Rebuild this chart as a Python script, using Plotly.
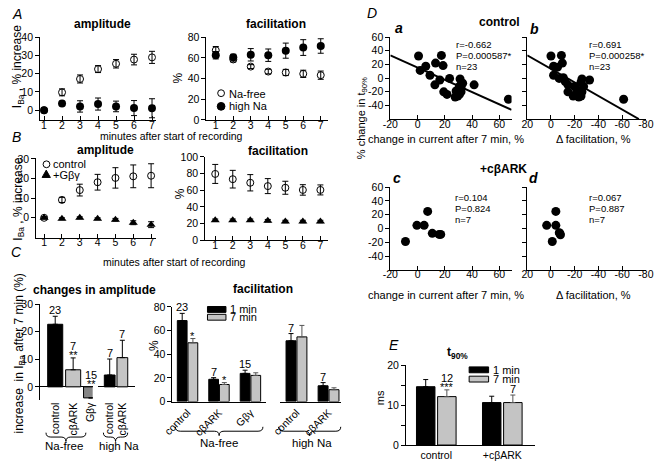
import plotly.graph_objects as go

# ---------------- data ----------------
minutes = [1, 2, 3, 4, 5, 6, 7]

# A: amplitude (% increase)
a_amp_nafree = [0, 9.8, 17.1, 22.5, 25.4, 27.7, 28.9]
a_amp_nafree_err = [0.8, 1.9, 2.2, 1.9, 2.3, 2.9, 3.3]
a_amp_highna = [0, 3.7, 2.1, 3.4, 2.1, 1.2, 1.1]
a_amp_highna_err = [0.5, 1.2, 3.1, 3.3, 2.9, 4.1, 5.2]
# A: facilitation (%)
a_fac_nafree = [67.4, 58.5, 51.6, 46.8, 45.9, 44.6, 43.3]
a_fac_nafree_err = [3.6, 2.4, 1.9, 2.2, 3.0, 3.5, 4.0]
a_fac_highna = [62.6, 60.7, 63.0, 62.6, 67.0, 70.0, 71.5]
a_fac_highna_err = [3.6, 2.8, 6.0, 6.0, 7.3, 7.6, 7.0]

# B: amplitude
b_amp_control = [0, 9.1, 14.1, 18.1, 20.3, 21.1, 21.4]
b_amp_control_err = [0.5, 1.3, 3.0, 4.0, 5.2, 5.8, 6.1]
b_amp_gbg = [0, -0.5, 0, -0.5, -1.0, -2.5, -3.5]
b_amp_gbg_err = [0.5, 0.5, 0.5, 0.5, 0.7, 1.0, 1.5]
# B: facilitation
b_fac_control = [79.6, 73.3, 69.0, 65.0, 63.0, 60.4, 60.4]
b_fac_control_err = [11.4, 10.6, 9.8, 9.0, 7.8, 6.3, 6.0]
b_fac_gbg = [24.0, 24.0, 24.0, 23.5, 22.5, 22.5, 22.5]
b_fac_gbg_err = [1.5, 1.5, 1.5, 1.5, 1.5, 1.5, 1.5]

# C: changes in amplitude after 7 min
c_amp_nafree_cats = ["control", "cβARK", "Gβγ"]
c_amp_nafree = [22.7, 6.2, -4.0]
c_amp_nafree_err = [2.9, 4.3, 0]
c_amp_nafree_n = ["23", "7", "15"]
c_amp_nafree_sig = ["", "**", "**"]
c_amp_highna_cats = ["control", "cβARK"]
c_amp_highna = [4.3, 10.6]
c_amp_highna_err = [5.8, 6.3]
c_amp_highna_n = ["7", "7"]

# C: facilitation 1 min / 7 min
c_fac_nafree_cats = ["control", "cβARK", "Gβγ"]
c_fac_nafree_1 = [68.5, 18.8, 23.8]
c_fac_nafree_1_err = [6.1, 1.4, 2.7]
c_fac_nafree_7 = [49.7, 14.4, 22.1]
c_fac_nafree_7_err = [3.6, 1.6, 2.2]
c_fac_nafree_n = ["23", "7", "15"]
c_fac_nafree_sig = ["*", "*", ""]
c_fac_highna_cats = ["control", "cβARK"]
c_fac_highna_1 = [51.4, 13.3]
c_fac_highna_1_err = [6.1, 2.7]
c_fac_highna_7 = [54.7, 10.0]
c_fac_highna_7_err = [9.7, 1.6]
c_fac_highna_n = ["7", "7"]

# D: correlations (control)
da_x = [0.7, 1.9, 6.0, 9.1, 12.7, 13.2, 16.3, 17.5, 18.7, 19.2, 21.6, 23.5, 27.6, 29.5,
        30.7, 31.2, 31.9, 33.1, 30.7, 41.5, 66.7, 28.3, 32.0]
da_y = [32.4, 11.3, 17.4, 4.2, -9.9, 22.0, -2.8, 33.3, 18.3, -20.2, -23.9, -0.5, -27.7, -26.3,
        -12.2, -1.3, -20.2, -7.5, -23.9, -9.9, -31.0, -19.0, -15.0]
da_fit_x = [-20, 69]
da_fit_y = [33.4, -46.5]
db_x = [0, -8.8, -2.2, -5.5, -9.6, -2.2, -6.9, -10.4, -14.3, -14.3, -19.8, -18.7, -21.5, -23.4,
        -25.3, -26.1, -26.1, -27.5, -25.3, -32.5, -61.2, -12.0, -22.0]
db_y = [32.4, 33.3, 17.4, 16.0, 22.0, 4.2, -0.5, 0.5, -9.9, -20.2, -12.2, -26.3, -21.7, -27.7,
        -6.2, -1.3, -20.2, -12.2, -26.3, -2.8, -31.0, -5.0, -18.0]
db_fit_x = [20, -74]
db_fit_y = [33.4, -60]
# D: +cBARK
dc_x = [-8.9, -0.5, 4.8, 7.4, 10.8, 15.8, 17.0]
dc_y = [-18.8, 4.6, 4.6, 24.8, -7.0, -8.5, -8.5]
dd_x = [3.6, -4.1, -4.1, -1.1, -7.4, -8.0, -7.0]
dd_y = [4.6, 24.8, 4.6, -18.8, -7.0, -9.0, -6.0]
stats_a = ["r=-0.662", "P=0.000587*", "n=23"]
stats_b = ["r=0.691", "P=0.000258*", "n=23"]
stats_c = ["r=0.104", "P=0.824", "n=7"]
stats_d = ["r=0.067", "P=0.887", "n=7"]
d_yticks = [-40, -20, 0, 20, 40, 60]
d_xticks_current = [-20, 0, 20, 40, 60]
d_xticks_fac = [20, 0, -20, -40, -60, -80]

# E: t90%
e_cats = ["control", "+cβARK"]
e_1 = [14.7, 10.7]
e_1_err = [1.8, 1.6]
e_7 = [12.2, 10.7]
e_7_err = [1.7, 1.9]
e_n = ["12", "7"]
e_sig = ["***", ""]

# ---------------- helpers ----------------
W, H = 661, 464
FONT = "Arial, Liberation Sans, sans-serif"
BLACK = "black"
GRAY = "#c4c4c4"
DGRAY = "#858585"


def X(p):
    return p / W


def Y(p):
    return 1 - p / H


def xdom(a, b):
    return [a / W, b / W]


def ydom(top, bot):
    return [1 - bot / H, 1 - top / H]


def axis(dom, rng, anchor, **kw):
    d = dict(domain=dom, range=rng, anchor=anchor, showline=True, linecolor=BLACK,
             linewidth=1, ticks="outside", ticklen=4, tickwidth=1, tickcolor=BLACK,
             showgrid=False, zeroline=False, fixedrange=True,
             tickfont=dict(size=10.5, color=BLACK, family=FONT))
    d.update(kw)
    return d


def ticks_of(vals):
    return dict(tickvals=vals, ticktext=[str(v) for v in vals])


def eb(arr, color=BLACK, width=3):
    return dict(type="data", array=arr, visible=True, color=color, thickness=1, width=width)


def eb_up(arr, color=BLACK):
    return dict(type="data", array=arr, arrayminus=[0] * len(arr), symmetric=False,
                visible=True, color=color, thickness=1, width=2.5)


annotations = []
shapes = []


def note(text, x, y, size=11, xanchor="center", yanchor="middle", angle=0, **kw):
    annotations.append(dict(text=text, x=X(x), y=Y(y), xref="paper", yref="paper",
                            xanchor=xanchor, yanchor=yanchor, showarrow=False,
                            textangle=angle, font=dict(size=size, color=BLACK, family=FONT), **kw))


def brace(x0, x1, ytop, ybot):
    xm = (x0 + x1) / 2
    ym = (ytop + ybot) / 2
    r = 5
    pts = [("M", x0, ytop), ("Q", x0, ym), ("", x0 + r, ym), ("L", xm - r, ym),
           ("Q", xm, ym), ("", xm, ybot), ("Q", xm, ym), ("", xm + r, ym),
           ("L", x1 - r, ym), ("Q", x1, ym), ("", x1, ytop)]
    path = " ".join(f"{c} {X(a):.5f},{Y(b):.5f}" if c else f"{X(a):.5f},{Y(b):.5f}" for c, a, b in pts)
    shapes.append(dict(type="path", path=path, xref="paper", yref="paper",
                       line=dict(color=BLACK, width=1)))


fig = go.Figure()

open_m = dict(symbol="circle-open", size=7, color=BLACK, line=dict(width=1, color=BLACK))
fill_m = dict(symbol="circle", size=8, color=BLACK)
tri_m = dict(symbol="triangle-up", size=8, color=BLACK)

# ---- A ----
fig.add_trace(go.Scatter(x=minutes, y=a_amp_nafree, error_y=eb(a_amp_nafree_err), mode="markers",
                         marker=open_m, xaxis="x", yaxis="y"))
fig.add_trace(go.Scatter(x=minutes, y=a_amp_highna, error_y=eb(a_amp_highna_err), mode="markers",
                         marker=fill_m, xaxis="x", yaxis="y"))
fig.add_trace(go.Scatter(x=minutes, y=a_fac_nafree, error_y=eb(a_fac_nafree_err), mode="markers",
                         marker=open_m, xaxis="x2", yaxis="y2"))
fig.add_trace(go.Scatter(x=minutes, y=a_fac_highna, error_y=eb(a_fac_highna_err), mode="markers",
                         marker=fill_m, xaxis="x2", yaxis="y2"))
# ---- B ----
fig.add_trace(go.Scatter(x=minutes, y=b_amp_control, error_y=eb(b_amp_control_err), mode="markers",
                         marker=open_m, xaxis="x3", yaxis="y3"))
fig.add_trace(go.Scatter(x=minutes, y=b_amp_gbg, error_y=eb(b_amp_gbg_err), mode="markers",
                         marker=tri_m, xaxis="x3", yaxis="y3"))
fig.add_trace(go.Scatter(x=minutes, y=b_fac_control, error_y=eb(b_fac_control_err), mode="markers",
                         marker=open_m, xaxis="x4", yaxis="y4"))
fig.add_trace(go.Scatter(x=minutes, y=b_fac_gbg, error_y=eb(b_fac_gbg_err), mode="markers",
                         marker=tri_m, xaxis="x4", yaxis="y4"))


# ---- C amplitude ----
def single_bars(cats, vals, errs, colors, xa, ya, width=0.84):
    idx = list(range(len(cats)))
    fig.add_trace(go.Bar(x=idx, y=vals, width=width, offset=-width / 2,
                         marker=dict(color=colors, line=dict(color=BLACK, width=1)),
                         error_y=eb_up(errs, BLACK), xaxis=xa, yaxis=ya))


single_bars(c_amp_nafree_cats, c_amp_nafree, c_amp_nafree_err, [BLACK, GRAY, DGRAY], "x5", "y5")
single_bars(c_amp_highna_cats, c_amp_highna, c_amp_highna_err, [BLACK, GRAY], "x6", "y6", 0.85)


def bar_labels(vals, errs, ns, sigs, xref, yref, xoff=0.0):
    for i, (v, e, n, s) in enumerate(zip(vals, errs, ns, sigs)):
        top = max(v + e, 0)
        if s:
            annotations.append(dict(text=s, x=i + xoff, y=top, xref=xref, yref=yref, showarrow=False,
                                    yanchor="bottom", yshift=-5, font=dict(size=11, color=BLACK, family=FONT)))
        if n:
            annotations.append(dict(text=n, x=i + xoff, y=top, xref=xref, yref=yref, showarrow=False,
                                    yanchor="bottom", yshift=(4 if s else -2),
                                    font=dict(size=11, color=BLACK, family=FONT)))


bar_labels(c_amp_nafree, c_amp_nafree_err, c_amp_nafree_n, c_amp_nafree_sig, "x5", "y5")
bar_labels(c_amp_highna, c_amp_highna_err, c_amp_highna_n, ["", ""], "x6", "y6")


# ---- grouped bars (1 min / 7 min) ----
def pair_bars(cats, v1, e1, v7, e7, xa, ya, w=0.31, g=0.015):
    idx = list(range(len(cats)))
    fig.add_trace(go.Bar(x=idx, y=v1, width=w, offset=-w - g,
                         marker=dict(color=BLACK, line=dict(color=BLACK, width=1)),
                         error_y=eb_up(e1, BLACK), xaxis=xa, yaxis=ya))
    fig.add_trace(go.Bar(x=idx, y=v7, width=w, offset=g,
                         marker=dict(color=GRAY, line=dict(color=BLACK, width=1)),
                         error_y=eb_up(e7, "#555555"), xaxis=xa, yaxis=ya))
    return -w / 2 - g, w / 2 + g


o1, o7 = pair_bars(c_fac_nafree_cats, c_fac_nafree_1, c_fac_nafree_1_err, c_fac_nafree_7,
                   c_fac_nafree_7_err, "x7", "y7")
bar_labels(c_fac_nafree_1, c_fac_nafree_1_err, c_fac_nafree_n, ["", "", ""], "x7", "y7", o1)
bar_labels(c_fac_nafree_7, c_fac_nafree_7_err, ["", "", ""], c_fac_nafree_sig, "x7", "y7", o7)
o1, o7 = pair_bars(c_fac_highna_cats, c_fac_highna_1, c_fac_highna_1_err, c_fac_highna_7,
                   c_fac_highna_7_err, "x8", "y8")
bar_labels(c_fac_highna_1, c_fac_highna_1_err, c_fac_highna_n, ["", ""], "x8", "y8", o1)

# ---- D ----
for xs, ys, fx, fy, xa, ya in [(da_x, da_y, da_fit_x, da_fit_y, "x9", "y9"),
                               (db_x, db_y, db_fit_x, db_fit_y, "x10", "y10")]:
    fig.add_trace(go.Scatter(x=fx, y=fy, mode="lines", line=dict(color=BLACK, width=2),
                             xaxis=xa, yaxis=ya))
    fig.add_trace(go.Scatter(x=xs, y=ys, mode="markers", marker=dict(size=9, color=BLACK),
                             xaxis=xa, yaxis=ya))
fig.add_trace(go.Scatter(x=dc_x, y=dc_y, mode="markers", marker=dict(size=9, color=BLACK),
                         xaxis="x11", yaxis="y11"))
fig.add_trace(go.Scatter(x=dd_x, y=dd_y, mode="markers", marker=dict(size=9, color=BLACK),
                         xaxis="x12", yaxis="y12"))

# ---- E ----
o1, o7 = pair_bars(e_cats, e_1, e_1_err, e_7, e_7_err, "x13", "y13", w=0.28, g=0.02)
bar_labels(e_7, e_7_err, e_n, e_sig, "x13", "y13", o7)

# ---------------- axes ----------------
ti = dict(ticks="inside", ticklabelstandoff=-5)
lay = {}
lay["xaxis"] = axis(xdom(31, 150), [0.784, 7.216], "y", tickvals=minutes, **ti)
lay["yaxis"] = axis(ydom(31.5, 117), [-5.3, 40.2], "x", tickvals=[0, 10, 20, 30, 40])
lay["xaxis2"] = axis(xdom(202, 327), [0.47, 7.42], "y2", tickvals=minutes, **ti)
lay["yaxis2"] = axis(ydom(31.5, 117), [0, 80.5], "x2", tickvals=[0, 20, 40, 60, 80])
lay["xaxis3"] = axis(xdom(27, 150), [0.56, 7.27], "y3", tickvals=minutes, **ti)
lay["yaxis3"] = axis(ydom(156.5, 238), [-10.2, 30.2], "x3", tickvals=[0, 10, 20, 30])
lay["xaxis4"] = axis(xdom(200.7, 327), [0.43, 7.44], "y4", tickvals=minutes, **ti)
lay["yaxis4"] = axis(ydom(154.5, 240.5), [0, 100.5], "x4", tickvals=[0, 20, 40, 60, 80, 100])

cat_font = dict(size=10.5, color=BLACK, family=FONT)
lay["xaxis5"] = axis(xdom(31, 85), [-0.84, 2.09], "y5", showline=False, ticks="",
                     tickvals=list(range(3)), ticktext=c_amp_nafree_cats, tickangle=-90, tickfont=cat_font)
lay["yaxis5"] = axis(ydom(305.5, 404), [-4.6, 30.2], "x5", tickvals=[0, 10, 20, 30],
                     zeroline=True, zerolinecolor=BLACK, zerolinewidth=1)
lay["xaxis6"] = axis(xdom(90, 128), [-0.96, 1.96], "y6", showline=False, ticks="",
                     tickvals=list(range(2)), ticktext=c_amp_highna_cats, tickangle=-90, tickfont=cat_font)
lay["yaxis6"] = axis(ydom(305.5, 404), [-4.6, 30.2], "x6", showline=False, ticks="",
                     showticklabels=False, zeroline=True, zerolinecolor=BLACK, zerolinewidth=1)
lay["xaxis7"] = axis(xdom(167, 263), [-0.48, 2.49], "y7", ticks="", tickvals=list(range(3)),
                     ticktext=c_fac_nafree_cats, tickangle=-45, tickfont=cat_font)
lay["yaxis7"] = axis(ydom(308.5, 406), [0, 80.4], "x7", tickvals=[0, 20, 40, 60, 80])
lay["xaxis8"] = axis(xdom(278, 340), [-0.5, 1.38], "y8", ticks="", tickvals=list(range(2)),
                     ticktext=c_fac_highna_cats, tickangle=-45, tickfont=cat_font)
lay["yaxis8"] = axis(ydom(308.5, 406), [0, 80.4], "x8", visible=False)

lay["xaxis9"] = axis(xdom(391, 515.6), [-20, 69], "y9", **ticks_of(d_xticks_current), **ti)
lay["yaxis9"] = axis(ydom(31.5, 116), [-60, 60.7], "x9", **ticks_of(d_yticks))
lay["xaxis10"] = axis(xdom(531.7, 654), [20, -80.2], "y10", **ticks_of(d_xticks_fac), **ti)
lay["yaxis10"] = axis(ydom(31.5, 116), [-60, 60.7], "x10", tickvals=d_yticks, showticklabels=False)
lay["xaxis11"] = axis(xdom(391, 515.6), [-20, 69], "y11", **ticks_of(d_xticks_current), **ti)
lay["yaxis11"] = axis(ydom(185.5, 270.9), [-60, 60.7], "x11", **ticks_of(d_yticks))
lay["xaxis12"] = axis(xdom(531.7, 654), [20, -80.2], "y12", **ticks_of(d_xticks_fac), **ti)
lay["yaxis12"] = axis(ydom(185.5, 270.9), [-60, 60.7], "x12", tickvals=d_yticks, showticklabels=False)

lay["xaxis13"] = axis(xdom(407, 540), [-0.46, 1.5], "y13", ticks="", tickvals=list(range(2)),
                      ticktext=e_cats, tickfont=cat_font)
lay["yaxis13"] = axis(ydom(368.8, 450.7), [0, 20.1], "x13", tickvals=[0, 5, 10, 15, 20],
                      ticktext=["0", " ", "10", " ", "20"])

# ---------------- text ----------------
# panel letters
for t, x, y in [("A", 7, 8), ("B", 7, 134), ("C", 7, 253), ("D", 372, 7), ("E", 395, 348)]:
    note(f"<i>{t}</i>", x, y, size=14)
for t, x, y in [("a", 400, 23), ("b", 539, 24), ("c", 398, 177), ("d", 538, 177)]:
    note(f"<b><i>{t}</i></b>", x, y, size=14)

# titles
note("<b>amplitude</b>", 95, 18, size=12)
note("<b>facilitation</b>", 273, 18, size=12)
note("<b>amplitude</b>", 98, 148, size=12)
note("<b>facilitation</b>", 275, 149, size=12)
note("<b>changes in amplitude</b>", 87, 292, size=12)
note("<b>facilitation</b>", 260, 291, size=12)
note("<b>control</b>", 503, 16, size=12)
note("<b>+cβARK</b>", 507, 167, size=12)
note("<b>t<sub>90%</sub></b>", 460, 356, size=12)

# axis titles
note("I<sub>Ba</sub> , % increase", 9, 62, size=12, angle=-90)
note("I<sub>Ba</sub> , % increase", 9, 198, size=12, angle=-90)
note("%", 173, 74, size=12, angle=-90)
note("%", 175, 193, size=12, angle=-90)
note("minutes after start of recording", 166, 133, size=10.5)
note("minutes after start of recording", 169, 263, size=10.5)
note("increase  in I<sub>Ba</sub> after 7 min (%)", 10, 357, size=12, angle=-90)
note("%", 148, 348, size=12, angle=-90)
note("% change in t<sub>90%</sub>", 362, 115, size=11, angle=-90)
note("change in current after 7 min, %", 448, 137, size=11)
note("Δ facilitation, %", 600, 137, size=11)
note("change in current after 7 min, %", 448, 297, size=11)
note("Δ facilitation, %", 600, 297, size=11)
note("ms", 380, 402, size=11, angle=-90)

# group labels + braces
note("Na-free", 56, 452, size=11.5)
note("high Na", 112, 452, size=11.5)
note("Na-free", 215, 449, size=11.5)
note("high Na", 310, 449, size=11.5)
brace(37, 78, 438, 447)
brace(96, 121, 438, 447)
brace(170, 260, 432, 441)
brace(276, 340, 432, 441)

# stats text
for lines, x0, y0 in [(stats_a, 456, 40), (stats_b, 593, 40), (stats_c, 455, 197), (stats_d, 593, 197)]:
    for k, t in enumerate(lines):
        note(t, x0, y0 + k * 11.2, size=9.5, xanchor="left")

# legends (symbols + text)
shapes.append(dict(type="circle", xref="paper", yref="paper", x0=X(213.5), x1=X(220.5),
                   y0=Y(93), y1=Y(86), line=dict(color=BLACK, width=1), fillcolor="white"))
shapes.append(dict(type="circle", xref="paper", yref="paper", x0=X(213), x1=X(221),
                   y0=Y(107), y1=Y(99), line=dict(color=BLACK, width=1), fillcolor=BLACK))
note("Na-free", 223, 90, size=11, xanchor="left")
note("high Na", 223, 103, size=11, xanchor="left")

shapes.append(dict(type="circle", xref="paper", yref="paper", x0=X(34), x1=X(41),
                   y0=Y(166), y1=Y(159), line=dict(color=BLACK, width=1), fillcolor="white"))
tp = f"M {X(33):.5f},{Y(176):.5f} L {X(41.5):.5f},{Y(176):.5f} L {X(37.25):.5f},{Y(168.5):.5f} Z"
shapes.append(dict(type="path", path=tp, xref="paper", yref="paper",
                   line=dict(color=BLACK, width=1), fillcolor=BLACK))
note("control", 42, 162, size=11, xanchor="left")
note("+Gβγ", 42, 173, size=11, xanchor="left")

for (bx0, bx1, y1a, y1b, y7a, y7b, tx) in [(203, 222, 308.5, 314.5, 316.5, 322.5, 224),
                                           (472, 492, 370.5, 376.5, 380, 386, 494)]:
    shapes.append(dict(type="rect", xref="paper", yref="paper", x0=X(bx0), x1=X(bx1),
                       y0=Y(y1b), y1=Y(y1a), line=dict(color=BLACK, width=1), fillcolor=BLACK))
    shapes.append(dict(type="rect", xref="paper", yref="paper", x0=X(bx0), x1=X(bx1),
                       y0=Y(y7b), y1=Y(y7a), line=dict(color=BLACK, width=1), fillcolor=GRAY))
    note("1 min", tx, (y1a + y1b) / 2, size=11, xanchor="left")
    note("7 min", tx, (y7a + y7b) / 2, size=11, xanchor="left")

fig.update_layout(width=W, height=H, margin=dict(l=0, r=0, t=0, b=0), showlegend=False,
                  paper_bgcolor="white", plot_bgcolor="white", barmode="overlay",
                  font=dict(family=FONT, color=BLACK, size=11),
                  annotations=annotations, shapes=shapes, **lay)

fig.write_html("out.html", config={"displayModeBar": False, "staticPlot": True},
               post_script="document.body.style.margin='0px';document.body.style.padding='0px';"
                           "document.body.style.overflow='hidden';")
